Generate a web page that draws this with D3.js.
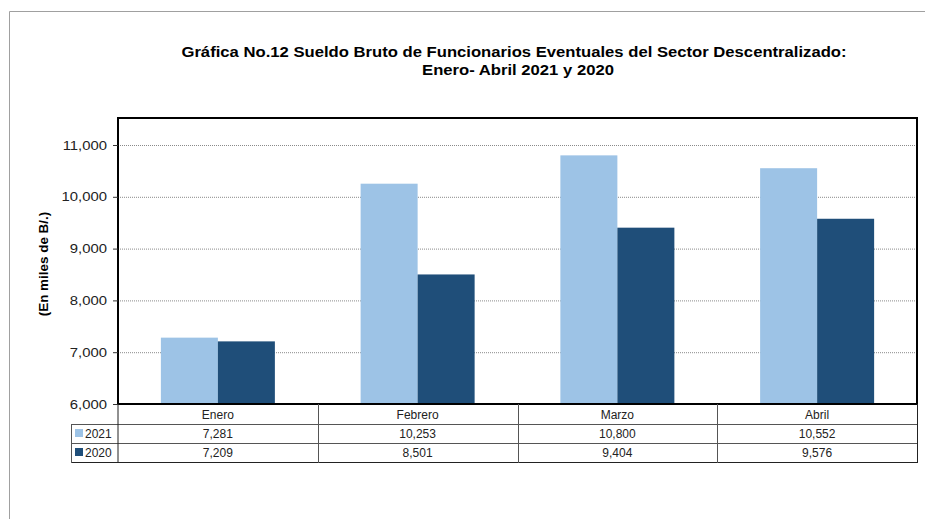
<!DOCTYPE html>
<html><head><meta charset="utf-8">
<script src="https://cdn.jsdelivr.net/npm/d3@7"></script>
<style>body{margin:0;background:#fff;}svg{display:block;font-family:"Liberation Sans",Arial,sans-serif;}</style>
</head><body><svg id="c" width="925" height="519"></svg>
<script>
const categories = ["Enero","Febrero","Marzo","Abril"];
const seriesNames = ["2021","2020"];
const values2021 = [7281,10253,10800,10552];
const values2020 = [7209,8501,9404,9576];
const yTicks = [6000,7000,8000,9000,10000,11000];
const colors = ["#9DC3E6","#1F4E79"];
const series = [values2021, values2020];
const SX = 1.19;

const svg = d3.select("#c");
// outer frame
svg.append("path").attr("d","M9.5,519 V11.5 H925").attr("fill","none").attr("stroke","#a0a0a0").attr("stroke-width",1);

svg.append("text").attr("transform",`translate(514,57) scale(${SX},1)`).attr("text-anchor","middle").attr("font-size",14).attr("font-weight","bold")
  .text("Gráfica No.12 Sueldo Bruto de Funcionarios Eventuales del Sector Descentralizado:");
svg.append("text").attr("transform",`translate(518,75) scale(${SX},1)`).attr("text-anchor","middle").attr("font-size",14).attr("font-weight","bold")
  .text("Enero- Abril 2021 y 2020");

const L=118,R=917,T=118,B=404;
const x = d3.scaleBand().domain(categories).range([L,R]);
const y = d3.scaleLinear().domain([6000,11000]).range([B,145]);
const barW = 57;

// gridlines
svg.append("g").selectAll("line").data(yTicks.filter(t=>t>6000)).join("line")
  .attr("x1",L).attr("x2",R).attr("y1",d=>y(d)+0.5).attr("y2",d=>y(d)+0.5)
  .attr("stroke","#8a8a8a").attr("stroke-width",1).attr("stroke-dasharray","1,1");

// bars
series.forEach((vals,si)=>{
  svg.append("g").selectAll("rect").data(vals).join("rect")
    .attr("x",(d,i)=>x(categories[i])+x.bandwidth()/2-barW+si*barW)
    .attr("width",barW)
    .attr("y",d=>y(d)).attr("height",d=>B-y(d))
    .attr("fill",colors[si]);
});

// plot border
svg.append("rect").attr("x",L).attr("y",T).attr("width",R-L).attr("height",B-T)
  .attr("fill","none").attr("stroke","#000").attr("stroke-width",2);

// y axis
const ya = d3.axisLeft(y).tickValues(yTicks).tickSize(5).tickSizeOuter(0).tickFormat(d3.format(","));
const yg = svg.append("g").attr("transform",`translate(${L},0)`).call(ya);
yg.select(".domain").remove();
yg.selectAll("text").attr("font-size",12.5).attr("fill","#222").attr("x",0)
  .attr("transform",`translate(-11,0) scale(${SX},1)`)
  .attr("font-family","Liberation Sans, Arial, sans-serif");
yg.selectAll("line").attr("stroke","#333");

svg.append("text").attr("transform","translate(48,264) rotate(-90) scale(1.12,1)").attr("text-anchor","middle")
  .attr("font-size",12).attr("font-weight","bold").text("(En miles de B/.)");

// data table
const tg = svg.append("g");
const gridCol = "#555";
tg.append("line").attr("x1",L).attr("x2",R).attr("y1",424.5).attr("y2",424.5).attr("stroke",gridCol);
tg.append("line").attr("x1",71).attr("x2",L).attr("y1",424.5).attr("y2",424.5).attr("stroke",gridCol);
tg.append("line").attr("x1",71).attr("x2",R).attr("y1",443.5).attr("y2",443.5).attr("stroke",gridCol);
tg.append("line").attr("x1",71).attr("x2",R).attr("y1",462.5).attr("y2",462.5).attr("stroke","#222");
tg.append("line").attr("x1",71.5).attr("x2",71.5).attr("y1",424).attr("y2",463).attr("stroke",gridCol);
tg.append("line").attr("x1",L).attr("x2",L).attr("y1",404).attr("y2",463).attr("stroke","#222");
categories.forEach((c,i)=>{
  const xe = x(c)+x.bandwidth();
  tg.append("line").attr("x1",Math.round(xe)+0.5).attr("x2",Math.round(xe)+0.5).attr("y1",404).attr("y2",463).attr("stroke",i===categories.length-1?"#222":gridCol);
  tg.append("text").attr("x",x(c)+x.bandwidth()/2).attr("y",418.5).attr("text-anchor","middle").attr("font-size",12).attr("fill","#222").text(c);
  series.forEach((vals,si)=>{
    tg.append("text").attr("x",x(c)+x.bandwidth()/2).attr("y",438+si*19).attr("text-anchor","middle").attr("font-size",12).attr("fill","#222").text(d3.format(",")(vals[i]));
  });
});
seriesNames.forEach((n,si)=>{
  tg.append("rect").attr("x",75).attr("y",429+si*19).attr("width",8).attr("height",8).attr("fill",colors[si]);
  tg.append("text").attr("x",85).attr("y",438+si*19).attr("font-size",12).attr("fill","#222").text(n);
});
</script></body></html>
